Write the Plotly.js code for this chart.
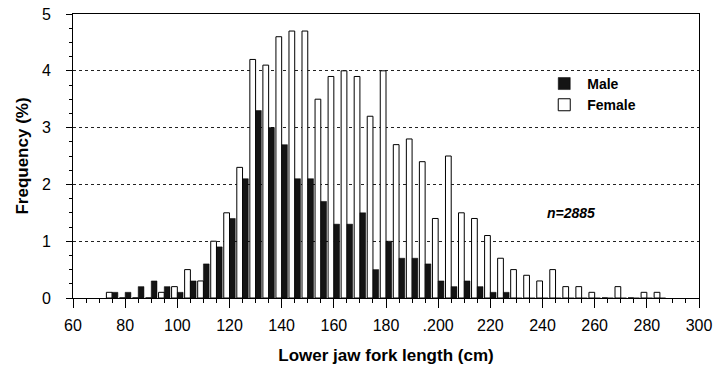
<!DOCTYPE html>
<html>
<head>
<meta charset="utf-8">
<script src="https://cdn.plot.ly/plotly-3.0.1.min.js"></script>
<style>html,body{margin:0;padding:0;background:#fff}#chart{width:717px;height:377px}</style>
</head>
<body>
<div id="chart"></div>
<script>
// Lower jaw fork length bins (cm), bin centres
var bins = [75,80,85,90,95,100,105,110,115,120,125,130,135,140,145,150,155,160,165,170,175,180,185,190,195,200,205,210,215,220,225,230,235,240,245,250,255,260,265,270,275,280,285];
// Frequency (%)
var female = [0.1,0,0,0,0.1,0.2,0.5,0.3,1.0,1.5,2.3,4.2,4.1,4.6,4.7,4.7,3.5,3.9,4.0,3.9,3.2,4.0,2.7,2.8,2.4,1.4,2.5,1.5,1.4,1.1,0.7,0.5,0.4,0.3,0.5,0.2,0.2,0.1,0,0.2,0,0.1,0.1];
var male   = [0.1,0.1,0.2,0.3,0.2,0.1,0.3,0.6,0.9,1.4,2.1,3.3,3.0,2.7,2.1,2.1,1.7,1.3,1.3,1.5,0.5,1.0,0.7,0.7,0.6,0.3,0.2,0.3,0.2,0.1,0.1,0,0,0,0,0,0,0,0,0,0,0,0];
var xTickVals = [60,80,100,120,140,160,180,200,220,240,260,280,300];
var xTickText = ['60','80','100','120','140','160','180','.200','220','240','260','280','300'];
var yTickVals = [0,1,2,3,4,5];
var sampleLabel = 'n=2885';

var FONT = 'Liberation Sans, Arial, Helvetica, sans-serif';

var traces = [
  {type:'bar', name:'Female', x:bins, y:female,
   marker:{color:'#ffffff', line:{color:'#000000', width:1}}},
  {type:'bar', name:'Male', x:bins, y:male,
   marker:{color:'#141414', line:{color:'#000000', width:0.5}}}
];

var layout = {
  width:717, height:377,
  margin:{l:73, r:18, t:14, b:79, pad:0},
  paper_bgcolor:'#ffffff', plot_bgcolor:'#ffffff',
  barmode:'group', bargap:0.12, bargroupgap:0,
  font:{family:FONT, color:'#000'},
  showlegend:true,
  legend:{x:0.748, y:0.81, xanchor:'left', yanchor:'top', traceorder:'reversed',
          font:{family:FONT, size:14, weight:'bold', color:'#000'},
          bgcolor:'rgba(0,0,0,0)', itemwidth:36, tracegroupgap:0},
  xaxis:{range:[60,300], tickmode:'array', tickvals:xTickVals, ticktext:xTickText,
         ticks:'outside', ticklen:9, tickwidth:1, tickcolor:'#000',
         minor:{dtick:5, tick0:0, ticks:'outside', ticklen:4, tickwidth:1, tickcolor:'#000', showgrid:false},
         showline:true, mirror:true, linecolor:'#000', linewidth:1,
         showgrid:false, zeroline:false, ticklabelstandoff:4,
         tickfont:{family:FONT, size:16, color:'#000'},
         title:{text:'Lower jaw fork length (cm)', font:{family:FONT, size:17, weight:'bold', color:'#000'}, standoff:15}},
  yaxis:{range:[0,5], tickmode:'array', tickvals:yTickVals,
         ticks:'outside', ticklen:6, tickwidth:1, tickcolor:'#000',
         minor:{dtick:0.25, tick0:0, ticks:'outside', ticklen:3, tickwidth:1, tickcolor:'#000', showgrid:false},
         showline:true, mirror:true, linecolor:'#000', linewidth:1,
         showgrid:true, gridcolor:'#222', griddash:'dot', gridwidth:1, zeroline:false,
         tickfont:{family:FONT, size:16, color:'#000'}, ticklabelstandoff:12,
         title:{text:'Frequency (%)', font:{family:FONT, size:17, weight:'bold', color:'#000'}, standoff:8}},
  annotations:[
    {text:sampleLabel, x:251, y:1.5, xref:'x', yref:'y', showarrow:false,
     font:{family:FONT, size:14, weight:'bold', style:'italic', color:'#000'}}
  ]
};

Plotly.newPlot('chart', traces, layout, {displayModeBar:false, staticPlot:true});
</script>
</body>
</html>
